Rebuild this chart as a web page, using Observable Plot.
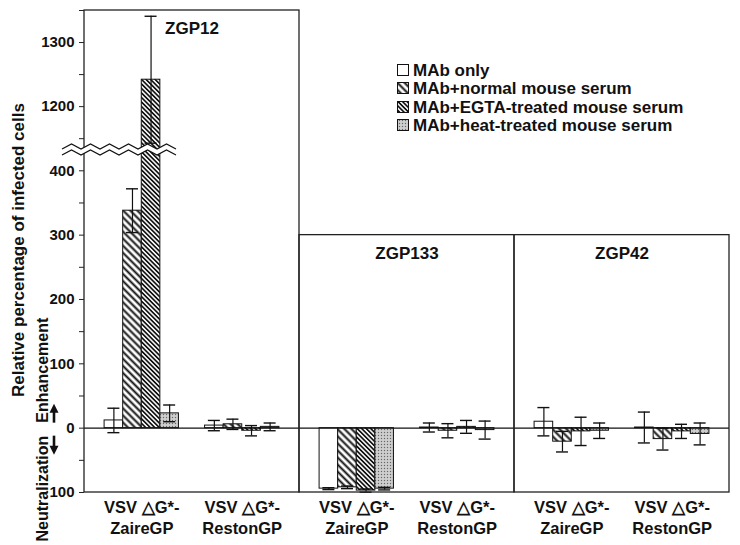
<!DOCTYPE html>
<html><head><meta charset="utf-8">
<script src="https://cdn.jsdelivr.net/npm/d3@7"></script>
<script src="https://cdn.jsdelivr.net/npm/@observablehq/plot@0.6"></script>
<style>
body{margin:0;background:#fff}
#chart{position:relative;width:740px;height:545px}
</style>
</head><body><div id="chart"></div>
<script>
// ---- data ----
const panels = ["ZGP12", "ZGP133", "ZGP42"];
const panelTops = [1350, 300, 300];
const groups = ["ZaireGP", "RestonGP"];
const groupLabels = ["VSV \u25B3G*-\nZaireGP", "VSV \u25B3G*-\nRestonGP"];
const series = ["MAb only", "MAb+normal mouse serum", "MAb+EGTA-treated mouse serum", "MAb+heat-treated mouse serum"];

const zgp12Zaire = [12, 338, 1242, 23];
const zgp12ZaireErr = [19, 34, 99, 13];
const zgp12Reston = [4, 6, -4, 2];
const zgp12RestonErr = [8, 8, 8, 6];
const zgp133Zaire = [-94, -92, -97, -94];
const zgp133ZaireErr = [1.5, 2, 2.5, 2];
const zgp133Reston = [1, -4, 2, -3];
const zgp133RestonErr = [7, 11, 10, 14];
const zgp42Zaire = [10, -21, -5, -4];
const zgp42ZaireErr = [22, 16, 22, 12];
const zgp42Reston = [1, -17, -5, -9];
const zgp42RestonErr = [24, 17, 11, 17];

const yMin = -100, yMax = 1350;
const yBreak = [430, 1130];
const yMajor = [1300, 1200, 400, 300, 200, 100, 0, -100];
const yMinor = [1350, 1250, 1150, 350, 250, 150, 50, -50];

// ---- tables built from the arrays ----
const table = {
  ZGP12: {ZaireGP: [zgp12Zaire, zgp12ZaireErr], RestonGP: [zgp12Reston, zgp12RestonErr]},
  ZGP133: {ZaireGP: [zgp133Zaire, zgp133ZaireErr], RestonGP: [zgp133Reston, zgp133RestonErr]},
  ZGP42: {ZaireGP: [zgp42Zaire, zgp42ZaireErr], RestonGP: [zgp42Reston, zgp42RestonErr]}
};
const rows = [];
panels.forEach(p => groups.forEach(g => series.forEach((s, i) => {
  rows.push({panel: p, group: g, series: s, si: i, value: table[p][g][0][i], err: table[p][g][1][i]});
})));
const frames = panels.map((p, i) => ({panel: p, top: panelTops[i], bottom: yMin}));
const labelRows = [];
panels.forEach(p => groups.forEach((g, j) => labelRows.push({panel: p, group: g, label: groupLabels[j]})));

const fills = ["white", "url(#hatchN)", "url(#hatchE)", "url(#dotsH)"];
const FONT = "'Liberation Sans', Arial, Helvetica, sans-serif";

function make(bw) {
  const capW = 12;
  const ci = Math.max(0, (bw - capW) / 2);
  const marks = [];
  series.forEach((s, i) => {
    const rs = rows.filter(d => d.si === i);
    marks.push(Plot.barY(rs, {fx: "panel", x: "group", y: "value", fill: fills[i], stroke: "#111", strokeWidth: 1,
      insetLeft: i * bw, insetRight: (3 - i) * bw}));
  });
  marks.push(Plot.ruleY([0], {stroke: "#111", strokeWidth: 1.3}));
  series.forEach((s, i) => {
    const rs = rows.filter(d => d.si === i);
    marks.push(Plot.ruleX(rs, {fx: "panel", x: "group", y1: d => d.value - d.err, y2: d => d.value + d.err,
      dx: (i - 1.5) * bw, stroke: "#111", strokeWidth: 1.2}));
    marks.push(Plot.tickY(rs, {fx: "panel", x: "group", y: d => d.value + d.err,
      insetLeft: i * bw + ci, insetRight: (3 - i) * bw + ci, stroke: "#111", strokeWidth: 1.4}));
    marks.push(Plot.tickY(rs, {fx: "panel", x: "group", y: d => d.value - d.err,
      insetLeft: i * bw + ci, insetRight: (3 - i) * bw + ci, stroke: "#111", strokeWidth: 1.4}));
  });
  marks.push(Plot.rect(frames, {fx: "panel", y1: "bottom", y2: "top", fill: "none", stroke: "#222", strokeWidth: 1.3}));
  marks.push(Plot.text(frames, {fx: "panel", y: "top", text: "panel", dy: 18, fontSize: 17, fontWeight: "bold", fill: "#111"}));
  marks.push(Plot.text(labelRows, {fx: "panel", x: "group", text: "label", frameAnchor: "bottom", dy: 5,
    lineAnchor: "top", lineHeight: 1.3, fontSize: 16.5, fontWeight: "bold", fill: "#111"}));
  marks.push(Plot.axisY({ticks: yMajor, tickFormat: d => String(Math.abs(d)), tickSize: 5, tickPadding: 5,
    fontSize: 15, fontWeight: "bold", label: null, anchor: "left", stroke: "#222", fill: "#111"}));
  marks.push(Plot.axisY({ticks: yMinor, tickFormat: () => "", tickSize: 5, label: null, anchor: "left", stroke: "#222"}));
  return Plot.plot({
    width: 740, height: 545,
    marginLeft: 83, marginRight: 10, marginTop: 10, marginBottom: 53,
    style: {fontFamily: FONT, fontWeight: "bold", background: "white", color: "#111"},
    fx: {domain: panels, paddingInner: 0, paddingOuter: 0, axis: null},
    x: {type: "band", domain: groups, paddingInner: 0.26, paddingOuter: 0.2, round: false, axis: null},
    y: {type: "linear", domain: [yMin, yBreak[0], yBreak[1], yMax], range: [492, 151, 151, 10], axis: null},
    marks
  });
}

const tmp = make(0);
const bw = tmp.scale("x").bandwidth / 4;
const plot = make(bw);
document.getElementById("chart").appendChild(plot);

// ---- patterns & decorations ----
const svg = d3.select(plot);
const defs = svg.insert("defs", ":first-child");
const pN = defs.append("pattern").attr("id", "hatchN").attr("patternUnits", "userSpaceOnUse")
  .attr("width", 5).attr("height", 5).attr("patternTransform", "rotate(-45)");
pN.append("rect").attr("width", 5).attr("height", 5).attr("fill", "white");
pN.append("line").attr("x1", 2.5).attr("x2", 2.5).attr("y1", 0).attr("y2", 5).attr("stroke", "#111").attr("stroke-width", 2);
const pE = defs.append("pattern").attr("id", "hatchE").attr("patternUnits", "userSpaceOnUse")
  .attr("width", 3.2).attr("height", 3.2).attr("patternTransform", "rotate(-45)");
pE.append("rect").attr("width", 3.2).attr("height", 3.2).attr("fill", "white");
pE.append("line").attr("x1", 1.6).attr("x2", 1.6).attr("y1", 0).attr("y2", 3.2).attr("stroke", "#111").attr("stroke-width", 1.7);
const pH = defs.append("pattern").attr("id", "dotsH").attr("patternUnits", "userSpaceOnUse")
  .attr("width", 3).attr("height", 3);
pH.append("rect").attr("width", 3).attr("height", 3).attr("fill", "#c4c4c4");
pH.append("rect").attr("x", 0).attr("y", 0).attr("width", 1).attr("height", 1).attr("fill", "#666");
pH.append("rect").attr("x", 1.5).attr("y", 1.5).attr("width", 1).attr("height", 1).attr("fill", "#eee");

const ys = plot.scale("y");
const y0 = ys.apply(0);
const yb = ys.apply(yBreak[0]);

// axis break zigzag
const zx0 = 62, zx1 = 177, half = 9.5;
const up = [], lo = [];
for (let k = 0; zx0 + k * half <= zx1 + 0.1; k++) {
  const x = zx0 + k * half;
  const yy = yb - 2 - (k % 2 ? 5 : 0);
  up.push([x, yy]); lo.push([x, yy + 6]);
}
svg.append("path").attr("d", "M" + up.map(p => p.join(",")).join("L") + "L" + lo.slice().reverse().map(p => p.join(",")).join("L") + "Z")
  .attr("fill", "white");
[up, lo].forEach(pts => svg.append("path").attr("d", "M" + pts.map(p => p.join(",")).join("L"))
  .attr("fill", "none").attr("stroke", "#111").attr("stroke-width", 1.2));

// axis titles
const tg = svg.append("g").attr("font-family", FONT).attr("font-weight", "bold").attr("fill", "#111");
tg.append("text").attr("transform", `translate(18,250) rotate(-90)`).attr("text-anchor", "middle")
  .attr("dominant-baseline", "central").attr("font-size", 17).text("Relative percentage of infected cells");
tg.append("text").attr("transform", `translate(42,${y0 - 5}) rotate(-90)`).attr("text-anchor", "start")
  .attr("dominant-baseline", "central").attr("font-size", 16).text("Enhancement");
tg.append("text").attr("transform", `translate(42,${y0 + 8}) rotate(-90)`).attr("text-anchor", "end")
  .attr("dominant-baseline", "central").attr("font-size", 16).text("Neutralization");
// arrows
const ax = 54;
svg.append("path").attr("d", `M${ax},${y0 - 5}V${y0 - 16}`).attr("stroke", "#111").attr("stroke-width", 2.6);
svg.append("path").attr("d", `M${ax - 4.5},${y0 - 15}L${ax},${y0 - 24}L${ax + 4.5},${y0 - 15}Z`).attr("fill", "#111");
svg.append("path").attr("d", `M${ax},${y0 + 8}V${y0 + 19}`).attr("stroke", "#111").attr("stroke-width", 2.6);
svg.append("path").attr("d", `M${ax - 4.5},${y0 + 18}L${ax},${y0 + 27}L${ax + 4.5},${y0 + 18}Z`).attr("fill", "#111");

// legend
const lg = svg.append("g").attr("font-family", FONT).attr("font-weight", "bold").attr("fill", "#111")
  .attr("font-size", 17).attr("text-anchor", "start");
const baselines = [76, 94, 113, 131];
series.forEach((s, i) => {
  lg.append("rect").attr("x", 397.5).attr("y", baselines[i] - 11.5).attr("width", 11).attr("height", 11)
    .attr("fill", fills[i]).attr("stroke", "#111").attr("stroke-width", 1);
  lg.append("text").attr("x", 413).attr("y", baselines[i]).attr("text-anchor", "start").text(s);
});
</script>
</body></html>
